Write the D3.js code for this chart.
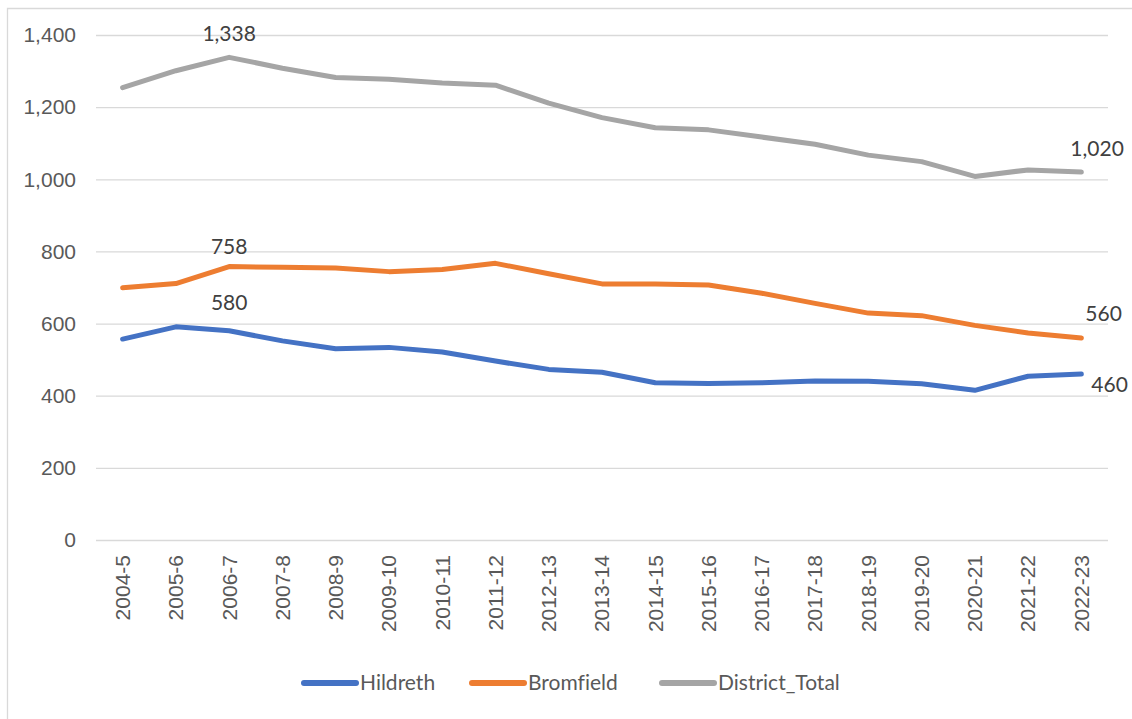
<!DOCTYPE html>
<html>
<head>
<meta charset="utf-8">
<script src="https://cdn.jsdelivr.net/npm/d3@7"></script>
<style>
  body { margin: 0; background: #fff; }
  svg { display: block; font-family: Lato, "Open Sans", sans-serif; font-variant-ligatures: none; }
  .grid line { stroke: #d9d9d9; stroke-width: 1.3; }
  .tick text { fill: #595959; }
</style>
</head>
<body>
<svg id="chart"></svg>
<script>
var width = 1132,
  height = 719;

var years = [
  '2004-5', '2005-6', '2006-7', '2007-8', '2008-9', '2009-10', '2010-11',
  '2011-12', '2012-13', '2013-14', '2014-15', '2015-16', '2016-17',
  '2017-18', '2018-19', '2019-20', '2020-21', '2021-22', '2022-23'
];

var hildreth = [557, 591, 580, 552, 530, 534, 521, 496, 473, 465, 436, 434, 436, 441, 440, 433, 415, 454, 460];
var bromfield = [699, 711, 758, 756, 754, 744, 750, 767, 738, 710, 710, 707, 684, 656, 629, 622, 595, 574, 560];
var districtTotal = [1254, 1301, 1338, 1308, 1282, 1277, 1267, 1261, 1211, 1171, 1143, 1137, 1117, 1097, 1067, 1049, 1008, 1026, 1020];

var seriesNames = ['Hildreth', 'Bromfield', 'District_Total'];
var seriesColors = ['#4472c4', '#ed7d31', '#a5a5a5'];
var yTicks = [0, 200, 400, 600, 800, 1000, 1200, 1400];

var series = [hildreth, bromfield, districtTotal].map(function(values, i) {
  return { name: seriesNames[i], color: seriesColors[i], values: values };
});

// label nudges (px) for peak label and last-point label, per series
var peakDy = [-21, -13, -16];
var lastDx = [10, 4, -11];
var lastDy = [18, -17, -16];

var svg = d3.select('#chart')
  .attr('width', width)
  .attr('height', height);

// chart frame (only left and top edges show)
svg.append('path')
  .attr('d', 'M7.5,' + height + 'V8.5H' + width)
  .attr('fill', 'none')
  .attr('stroke', '#d9d9d9')
  .attr('stroke-width', 1.3);

var x = d3.scaleBand()
  .domain(years)
  .range([96, 1108]);

var y = d3.scaleLinear()
  .domain([0, 1400])
  .range([540, 35]);

var fmt = d3.format(',');

// gridlines + y labels
var yAxis = svg.append('g')
  .attr('class', 'grid')
  .attr('transform', 'translate(' + x.range()[0] + ',0)')
  .call(d3.axisLeft(y)
    .tickValues(yTicks)
    .tickFormat(fmt)
    .tickSize(-(x.range()[1] - x.range()[0]))
    .tickPadding(20));
yAxis.select('.domain').remove();
yAxis.selectAll('.tick text')
  .attr('font-size', 21);

// x labels, rotated
var xAxis = svg.append('g')
  .attr('transform', 'translate(0,' + y(0) + ')')
  .call(d3.axisBottom(x).tickSize(0));
xAxis.select('.domain').remove();
xAxis.selectAll('.tick text')
  .attr('font-size', 21)
  .attr('text-anchor', 'end')
  .attr('dy', '0.35em')
  .attr('transform', 'translate(0,15) rotate(-90)')
  .attr('x', 0)
  .attr('y', 0);

var cx = function(d, i) { return x(years[i]) + x.bandwidth() / 2; };

var line = d3.line()
  .x(cx)
  .y(function(d) { return y(d); });

svg.append('g')
  .selectAll('path')
  .data(series)
  .enter().append('path')
  .attr('d', function(d) { return line(d.values); })
  .attr('fill', 'none')
  .attr('stroke', function(d) { return d.color; })
  .attr('stroke-width', 5)
  .attr('stroke-linejoin', 'round')
  .attr('stroke-linecap', 'round');

// data labels: peak year (above) and last year (right)
var labels = [];
series.forEach(function(s, k) {
  var last = s.values.length - 1;
  labels.push({ i: 2, v: s.values[2], dx: 0, dy: peakDy[k], anchor: 'middle' });
  labels.push({ i: last, v: s.values[last], dx: lastDx[k], dy: lastDy[k], anchor: 'start' });
});

svg.append('g')
  .selectAll('text')
  .data(labels)
  .enter().append('text')
  .attr('x', function(d) { return cx(null, d.i) + d.dx; })
  .attr('y', function(d) { return y(d.v) + d.dy; })
  .attr('text-anchor', function(d) { return d.anchor; })
  .attr('font-size', 21)
  .attr('fill', '#404040')
  .text(function(d) { return fmt(d.v); });

// legend
var legendX = [302, 470, 660];
var legend = svg.append('g')
  .selectAll('g')
  .data(series)
  .enter().append('g')
  .attr('transform', function(d, i) { return 'translate(' + legendX[i] + ',683)'; });

legend.append('line')
  .attr('x1', 2)
  .attr('x2', 54)
  .attr('stroke', function(d) { return d.color; })
  .attr('stroke-width', 6)
  .attr('stroke-linecap', 'round');

legend.append('text')
  .attr('x', 58)
  .attr('dy', '0.35em')
  .attr('font-size', 21)
  .attr('fill', '#595959')
  .text(function(d) { return d.name; });
</script>
</body>
</html>
